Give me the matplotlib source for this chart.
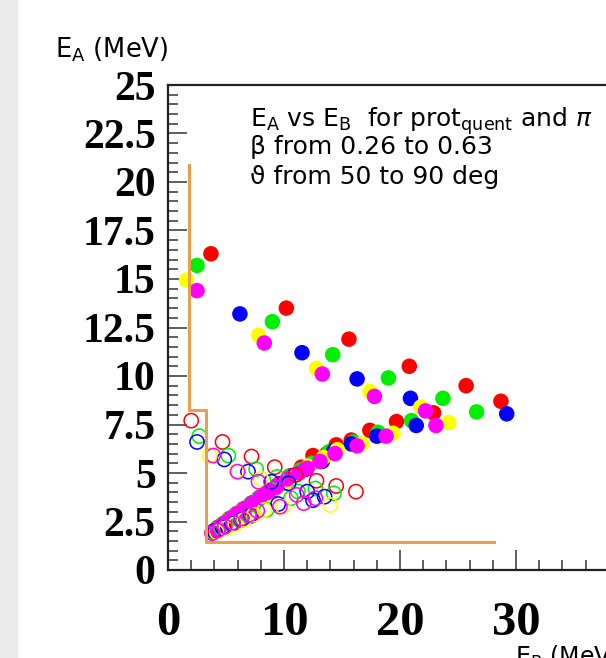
import matplotlib
matplotlib.use('Agg')
import matplotlib.pyplot as plt
from matplotlib.patches import Rectangle
from matplotlib.ticker import MultipleLocator

plt.rcParams['mathtext.fontset'] = 'custom'
plt.rcParams['mathtext.rm'] = 'DejaVu Sans'

# filled points (upper branch + diagonal), per colour
red_x = [3.7, 10.2, 15.6, 20.8, 25.7, 28.7,
         3.9, 4.3, 4.8, 5.3, 5.9, 6.5, 7.2, 7.9, 8.7, 9.6, 10.5, 11.5, 12.5, 13.7, 14.5, 15.8, 17.4, 19.7, 22.9]
red_y = [16.3, 13.5, 11.9, 10.5, 9.5, 8.7,
         2.0, 2.2, 2.4, 2.65, 2.9, 3.15, 3.45, 3.75, 4.1, 4.45, 4.85, 5.3, 5.9, 6.0, 6.45, 6.7, 7.2, 7.65, 8.1]
green_x = [2.5, 9.0, 14.2, 19.0, 23.7, 26.6,
           3.8, 4.2, 4.7, 5.2, 5.8, 6.4, 7.1, 7.8, 8.6, 9.5, 10.4, 11.4, 12.4, 13.9, 16.0, 18.1, 21.0]
green_y = [15.7, 12.8, 11.1, 9.9, 8.85, 8.15,
           1.95, 2.15, 2.35, 2.6, 2.85, 3.1, 3.4, 3.7, 4.0, 4.4, 4.8, 5.15, 5.5, 6.1, 6.6, 7.1, 7.7]
blue_x = [6.2, 11.55, 16.3, 20.9, 29.2,
          3.9, 4.4, 4.9, 5.5, 6.1, 6.8, 7.5, 8.3, 9.1, 10.0, 10.9, 11.9, 13.3, 14.3, 15.8, 18.0, 21.4]
blue_y = [13.2, 11.2, 9.85, 8.85, 8.05,
          1.95, 2.15, 2.4, 2.65, 2.9, 3.2, 3.5, 3.8, 4.15, 4.5, 4.9, 5.2, 5.6, 6.15, 6.5, 6.9, 7.45]
yellow_x = [1.6, 7.8, 12.8, 17.4, 21.8,
            4.0, 4.5, 5.1, 5.7, 6.3, 7.0, 7.7, 8.5, 9.3, 10.2, 11.1, 12.1, 13.4, 14.6, 16.7, 19.4, 24.2]
yellow_y = [14.95, 12.1, 10.4, 9.2, 8.4,
            1.95, 2.2, 2.45, 2.7, 2.95, 3.25, 3.55, 3.85, 4.2, 4.55, 4.95, 5.35, 5.8, 6.2, 6.5, 7.05, 7.6]
magenta_x = [2.5, 8.3, 13.3, 17.8, 22.2,
             3.8, 4.1, 4.5, 5.0, 5.5, 6.0, 6.6, 7.2, 7.9, 8.6, 9.4, 10.3, 11.3, 12.0, 13.1, 14.4, 16.3, 18.8, 23.1]
magenta_y = [14.4, 11.7, 10.1, 8.95, 8.2,
             1.9, 2.05, 2.25, 2.45, 2.7, 2.9, 3.15, 3.4, 3.7, 4.0, 4.35, 4.7, 5.0, 5.25, 5.6, 6.0, 6.4, 6.9, 7.45]

# open circles, per colour
red_open_x = [2.0, 4.7, 7.2, 9.2, 11.0, 12.8, 14.5, 16.2, 4.1, 4.8, 5.6, 6.4, 7.2]
red_open_y = [7.7, 6.6, 5.85, 5.3, 4.9, 4.6, 4.33, 4.04, 2.0, 2.2, 2.4, 2.6, 2.8]
green_open_x = [2.7, 5.2, 7.6, 9.4, 11.2, 12.7, 14.3, 8.5, 10.6, 3.9, 4.6, 5.4, 6.2, 7.0]
green_open_y = [6.9, 5.9, 5.2, 4.8, 4.05, 4.2, 3.95, 3.1, 3.7, 1.95, 2.15, 2.35, 2.55, 2.75]
blue_open_x = [2.5, 4.85, 6.9, 8.9, 10.4, 12.0, 13.5, 9.5, 12.5, 4.0, 4.7, 5.5, 6.3, 7.1]
blue_open_y = [6.6, 5.7, 5.07, 4.55, 4.47, 4.04, 3.78, 3.4, 3.6, 2.0, 2.2, 2.4, 2.6, 2.8]
yellow_open_x = [3.6, 5.9, 8.0, 9.9, 11.7, 14.0, 8.3, 4.2, 5.0, 5.8, 6.6, 7.4]
yellow_open_y = [5.9, 5.1, 4.7, 3.26, 3.44, 3.35, 3.1, 1.95, 2.15, 2.35, 2.6, 2.85]
magenta_open_x = [3.9, 6.0, 7.8, 9.3, 11.1, 11.7, 12.7, 9.65, 3.8, 4.3, 4.9, 5.6, 6.3, 7.0, 7.7]
magenta_open_y = [5.9, 5.07, 4.55, 4.26, 3.87, 3.45, 3.7, 3.26, 1.9, 2.05, 2.25, 2.45, 2.65, 2.85, 3.05]

# orange cut contour
cut_x = [1.8, 1.8, 3.3, 3.3, 28.1]
cut_y = [20.9, 8.25, 8.25, 1.45, 1.45]

y_ticks = [0, 2.5, 5, 7.5, 10, 12.5, 15, 17.5, 20, 22.5, 25]
y_labels = ['0', '2.5', '5', '7.5', '10', '12.5', '15', '17.5', '20', '22.5', '25']
x_ticks = [0, 10, 20, 30]

fig = plt.figure(figsize=(6.06, 6.58), dpi=100)
fig.patches.append(Rectangle((0, 0), 17 / 606, 1, transform=fig.transFigure,
                             color='#ebebeb', zorder=0))
ax = fig.add_axes([168 / 606, 88 / 658, 464 / 606, 485 / 658])
ax.set_xlim(0, 40)
ax.set_ylim(0, 25)

cols = {'red': '#ff0000', 'green': '#00ee00', 'blue': '#0000ff',
        'yellow': '#ffff00', 'magenta': '#ff00ff'}
filled = [('red', red_x, red_y), ('green', green_x, green_y), ('blue', blue_x, blue_y),
          ('yellow', yellow_x, yellow_y), ('magenta', magenta_x, magenta_y)]
opened = [('red', red_open_x, red_open_y), ('green', green_open_x, green_open_y),
          ('blue', blue_open_x, blue_open_y), ('yellow', yellow_open_x, yellow_open_y),
          ('magenta', magenta_open_x, magenta_open_y)]
for c, xs, ys in filled:
    ax.scatter(xs, ys, s=125, color=cols[c], edgecolors='none', zorder=3)
for c, xs, ys in opened:
    ax.scatter(xs, ys, s=105, facecolors='none', edgecolors=cols[c], linewidths=1.1, zorder=4)

ax.plot(cut_x, cut_y, color='#e8a050', lw=2.2, zorder=5)

for s in ['left', 'bottom', 'top']:
    ax.spines[s].set_linewidth(1.6)
    ax.spines[s].set_color('#222222')
ax.spines['right'].set_visible(False)

ax.set_yticks(y_ticks)
ax.set_yticklabels(y_labels)
ax.set_xticks(x_ticks)
ax.yaxis.set_minor_locator(MultipleLocator(0.5))
ax.xaxis.set_minor_locator(MultipleLocator(2))
ax.tick_params(axis='y', which='major', direction='in', length=14, width=1.1,
               color='#333333', pad=9)
ax.tick_params(axis='y', which='minor', direction='in', length=7, width=1.1, color='#333333')
ax.tick_params(axis='x', which='major', direction='in', length=14.5, width=1.1,
               color='#333333', pad=22)
ax.tick_params(axis='x', which='minor', direction='in', length=7.2, width=1.1, color='#333333')
for lab in ax.get_yticklabels():
    lab.set_fontfamily('Liberation Serif')
    lab.set_fontweight('bold')
    lab.set_fontsize(30)
for lab in ax.get_xticklabels():
    lab.set_fontfamily('Liberation Serif')
    lab.set_fontweight('bold')
    lab.set_fontsize(35)

fig.text(250 / 606, 1 - 127 / 658,
         r'E$_{\rm A}$ vs E$_{\rm B}$  for prot$_{\rm quent}$ and $\pi$',
         fontsize=18, family='DejaVu Sans', va='baseline')
fig.text(250 / 606, 1 - 154 / 658, '\u03b2 from 0.26 to 0.63',
         fontsize=18, family='DejaVu Sans', va='baseline')
fig.text(250 / 606, 1 - 184 / 658, '\u03d1 from 50 to 90 deg',
         fontsize=18, family='DejaVu Sans', va='baseline')

fig.text(55 / 606, 1 - 57 / 658, r'E$_{\rm A}$ (MeV)', fontsize=18.5,
         family='DejaVu Sans', va='baseline')
fig.text(515 / 606, 1 - 644 / 658, r'E$_{\rm B}$ (MeV)', fontsize=17,
         family='DejaVu Sans', va='top')

fig.savefig('out.png', dpi=100)
